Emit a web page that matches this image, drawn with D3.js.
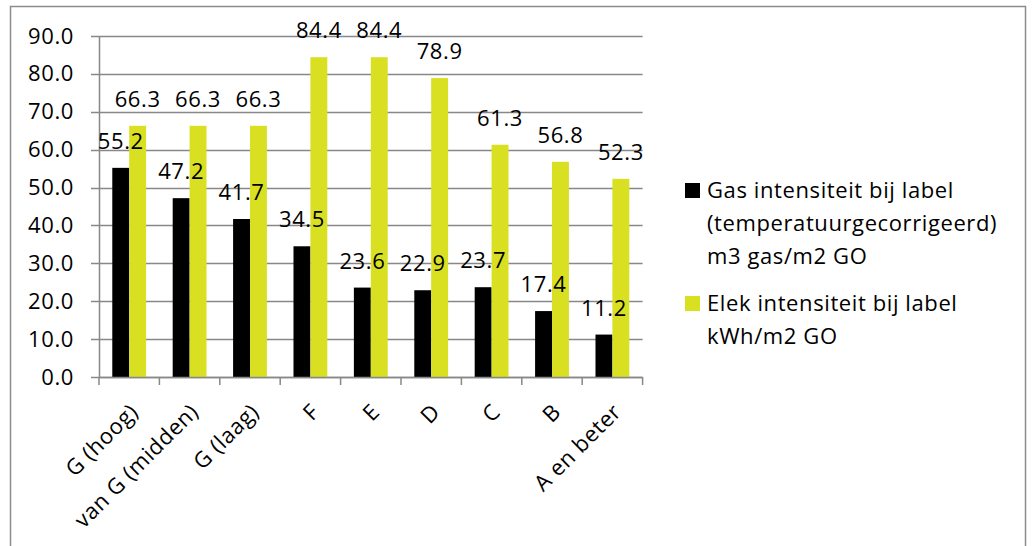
<!DOCTYPE html>
<html>
<head>
<meta charset="utf-8">
<script src="https://cdn.jsdelivr.net/npm/d3@7"></script>
<style>
  body { margin: 0; background: #fff; }
  text { font-family: "Open Sans", sans-serif; font-size: 22px; letter-spacing: 0.6px; fill: #000; }
</style>
</head>
<body>
<div id="chart-area"></div>
<script>
// chart data
var categories = ["G (hoog)", "van G (midden)", "G (laag)", "F", "E", "D", "C", "B", "A en beter"];
var gasValues = [55.2, 47.2, 41.7, 34.5, 23.6, 22.9, 23.7, 17.4, 11.2];
var elekValues = [66.3, 66.3, 66.3, 84.4, 84.4, 78.9, 61.3, 56.8, 52.3];
var seriesNames = ["gas", "elek"];
var legendLines = [
    ["Gas intensiteit bij label", "(temperatuurgecorrigeerd)", "m3 gas/m2 GO"],
    ["Elek intensiteit bij label", "kWh/m2 GO"]
];
var yTicks = [0, 10, 20, 30, 40, 50, 60, 70, 80, 90];

var colors = {gas: "#000000", elek: "#d8e021"};
var gridColor = "#888888";

var plot = {left: 99, right: 642.6, top: 36, bottom: 377};

var svg = d3.select("#chart-area")
    .append("svg")
    .attr("width", 1033)
    .attr("height", 546);

// outer chart border (bottom edge runs off the picture)
svg.append("rect")
    .attr("x", 10.5)
    .attr("y", 6.5)
    .attr("width", 1015)
    .attr("height", 600)
    .attr("fill", "#fff")
    .attr("stroke", "#8c8c8c")
    .attr("stroke-width", 1.5);

var x = d3.scaleBand()
    .domain(categories)
    .range([plot.left, plot.right])
    .paddingInner(0.44)
    .paddingOuter(0.22);

var xSeries = d3.scaleBand()
    .domain(seriesNames)
    .range([0, x.bandwidth()]);

var y = d3.scaleLinear()
    .domain([0, 90])
    .range([plot.bottom, plot.top]);

// gridlines, they poke out left of the axis like excel tick marks
svg.append("g")
    .attr("class", "grid")
    .selectAll("line")
    .data(yTicks)
    .enter().append("line")
    .attr("x1", plot.left - 8)
    .attr("x2", plot.right)
    .attr("y1", function(d) { return Math.round(y(d)) + 0.5; })
    .attr("y2", function(d) { return Math.round(y(d)) + 0.5; })
    .attr("stroke", gridColor)
    .attr("stroke-width", 1.5);

// y axis labels
var yAxis = svg.append("g")
    .attr("transform", "translate(" + plot.left + ",0)")
    .call(d3.axisLeft(y).tickValues(yTicks).tickSize(0).tickPadding(25).tickFormat(d3.format(".1f")));
yAxis.select(".domain").attr("stroke", gridColor).attr("stroke-width", 1.5);
yAxis.selectAll("text")
    .attr("font-family", null)
    .attr("font-size", null)
    .attr("fill", null);

// bars
var groups = svg.selectAll("g.cat")
    .data(categories)
    .enter().append("g")
    .attr("class", "cat")
    .attr("transform", function(d) { return "translate(" + x(d) + ",0)"; });

var rows = categories.map(function(c, i) {
    return [{key: "gas", value: gasValues[i]}, {key: "elek", value: elekValues[i]}];
});

groups.selectAll("rect")
    .data(function(d, i) { return rows[i]; })
    .enter().append("rect")
    .attr("x", function(d) { return xSeries(d.key); })
    .attr("y", function(d) { return y(d.value); })
    .attr("width", xSeries.bandwidth())
    .attr("height", function(d) { return y(0) - y(d.value); })
    .attr("fill", function(d) { return colors[d.key]; });

// x axis with outward ticks at band edges
var xAxisG = svg.append("g");
xAxisG.append("line")
    .attr("x1", plot.left)
    .attr("x2", plot.right)
    .attr("y1", plot.bottom + 0.5)
    .attr("y2", plot.bottom + 0.5)
    .attr("stroke", gridColor)
    .attr("stroke-width", 1.5);

var edges = categories.map(function(c) { return x(c) - x.step() * x.paddingInner() / 2; });
edges.push(plot.right);
xAxisG.selectAll("line.tick")
    .data(edges)
    .enter().append("line")
    .attr("class", "tick")
    .attr("x1", function(d) { return d; })
    .attr("x2", function(d) { return d; })
    .attr("y1", plot.bottom)
    .attr("y2", plot.bottom + 8)
    .attr("stroke", gridColor)
    .attr("stroke-width", 1.5);

xAxisG.selectAll("text")
    .data(categories)
    .enter().append("text")
    .attr("text-anchor", "end")
    .attr("dy", "0.72em")
    .attr("transform", function(d) {
        return "translate(" + (x(d) + x.bandwidth() / 2 - 1) + "," + 402 + ") rotate(-45)";
    })
    .text(function(d) { return d; });

// data labels
groups.selectAll("text.val")
    .data(function(d, i) { return rows[i]; })
    .enter().append("text")
    .attr("class", "val")
    .attr("text-anchor", "middle")
    .attr("x", function(d) { return xSeries(d.key) + xSeries.bandwidth() / 2; })
    .attr("y", function(d) { return y(d.value) - 19; })
    .text(function(d) { return d3.format(".1f")(d.value); });

// legend
var legendY = [183, 296];
var legend = svg.selectAll("g.legend")
    .data(seriesNames)
    .enter().append("g")
    .attr("class", "legend")
    .attr("transform", function(d, i) { return "translate(685," + legendY[i] + ")"; });

legend.append("rect")
    .attr("width", 15)
    .attr("height", 15)
    .attr("fill", function(d) { return colors[d]; });

legend.selectAll("text")
    .data(function(d, i) { return legendLines[i]; })
    .enter().append("text")
    .attr("x", 22)
    .attr("y", function(d, i) { return 15 + i * 33; })
    .text(function(d) { return d; });
</script>
</body>
</html>
